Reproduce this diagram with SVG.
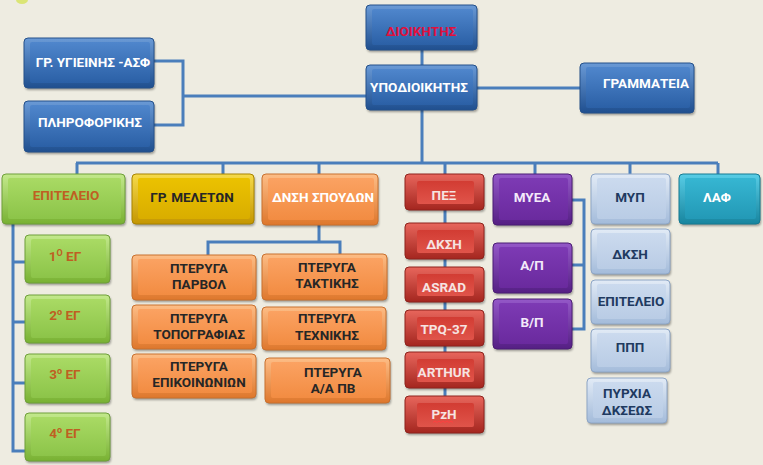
<svg xmlns="http://www.w3.org/2000/svg" width="763" height="465" viewBox="0 0 763 465">
<defs>
<linearGradient id="blueO" x1="0" y1="0" x2="0" y2="1"><stop offset="0" stop-color="#6a9ad6"/><stop offset="1" stop-color="#1f4f8f"/></linearGradient>
<linearGradient id="blueI" x1="0" y1="0" x2="0" y2="1"><stop offset="0" stop-color="#4f86cc"/><stop offset="1" stop-color="#2b60a6"/></linearGradient>
<linearGradient id="greenO" x1="0" y1="0" x2="0" y2="1"><stop offset="0" stop-color="#c3e98c"/><stop offset="1" stop-color="#78b132"/></linearGradient>
<linearGradient id="greenI" x1="0" y1="0" x2="0" y2="1"><stop offset="0" stop-color="#a9da64"/><stop offset="1" stop-color="#8cc449"/></linearGradient>
<linearGradient id="yelO" x1="0" y1="0" x2="0" y2="1"><stop offset="0" stop-color="#f6da4a"/><stop offset="1" stop-color="#c49600"/></linearGradient>
<linearGradient id="yelI" x1="0" y1="0" x2="0" y2="1"><stop offset="0" stop-color="#ebc200"/><stop offset="1" stop-color="#d9ad00"/></linearGradient>
<linearGradient id="orO" x1="0" y1="0" x2="0" y2="1"><stop offset="0" stop-color="#fdbd86"/><stop offset="1" stop-color="#de772c"/></linearGradient>
<linearGradient id="orI" x1="0" y1="0" x2="0" y2="1"><stop offset="0" stop-color="#fba262"/><stop offset="1" stop-color="#f28c42"/></linearGradient>
<linearGradient id="redO" x1="0" y1="0" x2="0" y2="1"><stop offset="0" stop-color="#e8665c"/><stop offset="1" stop-color="#a4261f"/></linearGradient>
<linearGradient id="redI" x1="0" y1="0" x2="0" y2="1"><stop offset="0" stop-color="#d23c33"/><stop offset="1" stop-color="#e0544a"/></linearGradient>
<linearGradient id="purO" x1="0" y1="0" x2="0" y2="1"><stop offset="0" stop-color="#9458c8"/><stop offset="1" stop-color="#551f84"/></linearGradient>
<linearGradient id="purI" x1="0" y1="0" x2="0" y2="1"><stop offset="0" stop-color="#7d3ab4"/><stop offset="1" stop-color="#6a2a9e"/></linearGradient>
<linearGradient id="lbO" x1="0" y1="0" x2="0" y2="1"><stop offset="0" stop-color="#e2ebf6"/><stop offset="1" stop-color="#a3bbda"/></linearGradient>
<linearGradient id="lbI" x1="0" y1="0" x2="0" y2="1"><stop offset="0" stop-color="#cbdaee"/><stop offset="1" stop-color="#b9cce5"/></linearGradient>
<linearGradient id="tealO" x1="0" y1="0" x2="0" y2="1"><stop offset="0" stop-color="#58cde6"/><stop offset="1" stop-color="#17859f"/></linearGradient>
<linearGradient id="tealI" x1="0" y1="0" x2="0" y2="1"><stop offset="0" stop-color="#36b6d2"/><stop offset="1" stop-color="#2399b6"/></linearGradient>
<filter id="shd" x="-10%" y="-10%" width="130%" height="140%"><feGaussianBlur stdDeviation="1.2"/></filter>
</defs>
<style>
.bg{fill:#eeece1}
.sh{fill:#000;opacity:.35;filter:url(#shd)}
.conn{fill:none;stroke:#4a7ebb;stroke-width:3}
text{font-family:Roboto,"Noto Sans","DejaVu Sans",sans-serif;font-weight:bold;font-size:13.5px;text-anchor:middle}
.blue .o{fill:url(#blueO);stroke:#24508a;stroke-width:1}
.blue .i{fill:url(#blueI)}
.blue text{fill:#ffffff}
.green .o{fill:url(#greenO);stroke:#6f9f3a;stroke-width:1}
.green .i{fill:url(#greenI)}
.green text{fill:#bf5f22}
.yel .o{fill:url(#yelO);stroke:#a88300;stroke-width:1}
.yel .i{fill:url(#yelI)}
.yel text{fill:#262626}
.or .o{fill:url(#orO);stroke:#c8702e;stroke-width:1}
.or .i{fill:url(#orI)}
.or text{fill:#262626}
.red .o{fill:url(#redO);stroke:#8e231c;stroke-width:1}
.red .i{fill:url(#redI)}
.red text{fill:#f6e4e2}
.pur .o{fill:url(#purO);stroke:#4b1c74;stroke-width:1}
.pur .i{fill:url(#purI)}
.pur text{fill:#f3eafa}
.lb .o{fill:url(#lbO);stroke:#8ea6c6;stroke-width:1}
.lb .i{fill:url(#lbI)}
.lb text{fill:#1f3a60}
.teal .o{fill:url(#tealO);stroke:#157a92;stroke-width:1}
.teal .i{fill:url(#tealI)}
.teal text{fill:#ffffff}
</style>
<rect class="bg" x="0" y="0" width="763" height="465"/>
<ellipse cx="22" cy="0" rx="6" ry="4" fill="#d6e35a" opacity=".8"/>

<g id="connectors">
<path class="conn" d="M422,50V65M422,110V163M477,88H580"/>
<path class="conn" d="M366,96H183M154,61H183V125H154"/>
<path class="conn" d="M76,163H718M77,163V174M223,163V174M319,163V174M445,163V174M535,163V174M630,163V174M718,163V174"/>
<path class="conn" d="M319,225V242M208,255V242H340V254"/>
<path class="conn" d="M445,210V396"/>
<path class="conn" d="M572,200H584V329H572M584,265H572"/>
<path class="conn" d="M13,224V451H25M13,262H25M13,322H25M13,383H25"/>
</g>

<g id="n-dioikitis" class="blue"><rect class="sh" x="367" y="7" width="111" height="45" rx="4"/><rect class="o" x="366" y="5" width="111" height="45" rx="4"/><rect class="i" x="372" y="9" width="101" height="36" rx="2"/><text x="421" y="35.5" style="fill:#e0103c">ΔΙΟΙΚΗΤΗΣ</text></g>
<g id="n-ypodioikitis" class="blue"><rect class="sh" x="367" y="67" width="111" height="45" rx="4"/><rect class="o" x="366" y="65" width="111" height="45" rx="4"/><rect class="i" x="372" y="69" width="101" height="36" rx="2"/><text x="419" y="91.5">ΥΠΟΔΙΟΙΚΗΤΗΣ</text></g>
<g id="n-grammateia" class="blue"><rect class="sh" x="581" y="65" width="114" height="50" rx="4"/><rect class="o" x="580" y="63" width="114" height="50" rx="4"/><rect class="i" x="586" y="67" width="104" height="41" rx="2"/><text x="646" y="87.5">ΓΡΑΜΜΑΤΕΙΑ</text></g>
<g id="n-ygieinis" class="blue"><rect class="sh" x="25" y="40" width="130" height="50" rx="4"/><rect class="o" x="24" y="38" width="130" height="50" rx="4"/><rect class="i" x="30" y="42" width="120" height="41" rx="2"/><text x="93" y="66.5">ΓΡ. ΥΓΙΕΙΝΗΣ -ΑΣΦ</text></g>
<g id="n-pliroforikis" class="blue"><rect class="sh" x="25" y="103" width="130" height="51" rx="4"/><rect class="o" x="24" y="101" width="130" height="51" rx="4"/><rect class="i" x="30" y="105" width="120" height="42" rx="2"/><text x="90" y="126.5">ΠΛΗΡΟΦΟΡΙΚΗΣ</text></g>

<g id="n-epiteleio" class="green"><rect class="sh" x="3" y="176" width="123" height="50" rx="4"/><rect class="o" x="2" y="174" width="123" height="50" rx="4"/><rect class="i" x="8" y="178" width="113" height="41" rx="2"/><text x="66" y="199.5">ΕΠΙΤΕΛΕΙΟ</text></g>
<g id="n-eg1" class="green"><rect class="sh" x="26" y="237" width="85" height="48" rx="4"/><rect class="o" x="25" y="235" width="85" height="48" rx="4"/><rect class="i" x="31" y="239" width="75" height="39" rx="2"/><text x="65" y="261">1<tspan font-size="9" dy="-5">Ο</tspan><tspan dy="5"> ΕΓ</tspan></text></g>
<g id="n-eg2" class="green"><rect class="sh" x="26" y="297" width="85" height="48" rx="4"/><rect class="o" x="25" y="295" width="85" height="48" rx="4"/><rect class="i" x="31" y="299" width="75" height="39" rx="2"/><text x="65" y="320">2<tspan font-size="9" dy="-5">ο</tspan><tspan dy="5"> ΕΓ</tspan></text></g>
<g id="n-eg3" class="green"><rect class="sh" x="26" y="356" width="85" height="49" rx="4"/><rect class="o" x="25" y="354" width="85" height="49" rx="4"/><rect class="i" x="31" y="358" width="75" height="40" rx="2"/><text x="65" y="379">3<tspan font-size="9" dy="-5">ο</tspan><tspan dy="5"> ΕΓ</tspan></text></g>
<g id="n-eg4" class="green"><rect class="sh" x="26" y="415" width="85" height="48" rx="4"/><rect class="o" x="25" y="413" width="85" height="48" rx="4"/><rect class="i" x="31" y="417" width="75" height="39" rx="2"/><text x="65" y="438">4<tspan font-size="9" dy="-5">ο</tspan><tspan dy="5"> ΕΓ</tspan></text></g>

<g id="n-meletwn" class="yel"><rect class="sh" x="133" y="176" width="122" height="50" rx="4"/><rect class="o" x="132" y="174" width="122" height="50" rx="4"/><rect class="i" x="138" y="178" width="112" height="41" rx="2"/><text x="192" y="201.5">ΓΡ. ΜΕΛΕΤΩΝ</text></g>

<g id="n-dnsi" class="or"><rect class="sh" x="263" y="176" width="116" height="51" rx="4"/><rect class="o" x="262" y="174" width="116" height="51" rx="4"/><rect class="i" x="268" y="178" width="106" height="42" rx="2"/><text x="323" y="201.5" style="fill:#ffffff">ΔΝΣΗ ΣΠΟΥΔΩΝ</text></g>
<g id="n-parvol" class="or"><rect class="sh" x="133" y="257" width="124" height="45" rx="4"/><rect class="o" x="132" y="255" width="124" height="45" rx="4"/><rect class="i" x="138" y="259" width="114" height="36" rx="2"/><text x="199" y="272.5">ΠΤΕΡΥΓΑ</text><text x="199" y="288.5">ΠΑΡΒΟΛ</text></g>
<g id="n-topografias" class="or"><rect class="sh" x="133" y="307" width="124" height="44" rx="4"/><rect class="o" x="132" y="305" width="124" height="44" rx="4"/><rect class="i" x="138" y="309" width="114" height="35" rx="2"/><text x="199" y="322.5">ΠΤΕΡΥΓΑ</text><text x="199" y="338.5">ΤΟΠΟΓΡΑΦΙΑΣ</text></g>
<g id="n-epikoinwniwn" class="or"><rect class="sh" x="133" y="356" width="124" height="44" rx="4"/><rect class="o" x="132" y="354" width="124" height="44" rx="4"/><rect class="i" x="138" y="358" width="114" height="35" rx="2"/><text x="199" y="370.5">ΠΤΕΡΥΓΑ</text><text x="199" y="386.5">ΕΠΙΚΟΙΝΩΝΙΩΝ</text></g>
<g id="n-taktikis" class="or"><rect class="sh" x="263" y="256" width="125" height="46" rx="4"/><rect class="o" x="262" y="254" width="125" height="46" rx="4"/><rect class="i" x="268" y="258" width="115" height="37" rx="2"/><text x="327" y="271.5">ΠΤΕΡΥΓΑ</text><text x="327" y="287.5">ΤΑΚΤΙΚΗΣ</text></g>
<g id="n-texnikis" class="or"><rect class="sh" x="263" y="309" width="124" height="43" rx="4"/><rect class="o" x="262" y="307" width="124" height="43" rx="4"/><rect class="i" x="268" y="311" width="114" height="34" rx="2"/><text x="327" y="322.5">ΠΤΕΡΥΓΑ</text><text x="327" y="339.5">ΤΕΧΝΙΚΗΣ</text></g>
<g id="n-aapv" class="or"><rect class="sh" x="266" y="360" width="125" height="45" rx="4"/><rect class="o" x="265" y="358" width="125" height="45" rx="4"/><rect class="i" x="271" y="362" width="115" height="36" rx="2"/><text x="333" y="376.5">ΠΤΕΡΥΓΑ</text><text x="333" y="392.5">Α/Α ΠΒ</text></g>

<g id="n-pex" class="red"><rect class="sh" x="406" y="176" width="79" height="36" rx="4"/><rect class="o" x="405" y="174" width="79" height="36" rx="4"/><rect class="i" x="417" y="181" width="57" height="23" rx="2"/><text x="444" y="199.5">ΠΕΞ</text></g>
<g id="n-dksi1" class="red"><rect class="sh" x="406" y="225" width="79" height="36" rx="4"/><rect class="o" x="405" y="223" width="79" height="36" rx="4"/><rect class="i" x="417" y="230" width="57" height="23" rx="2"/><text x="444" y="248.5">ΔΚΣΗ</text></g>
<g id="n-asrad" class="red"><rect class="sh" x="406" y="269" width="79" height="35" rx="4"/><rect class="o" x="405" y="267" width="79" height="35" rx="4"/><rect class="i" x="417" y="274" width="57" height="22" rx="2"/><text x="444" y="291.5">ASRAD</text></g>
<g id="n-tpq37" class="red"><rect class="sh" x="406" y="312" width="79" height="36" rx="4"/><rect class="o" x="405" y="310" width="79" height="36" rx="4"/><rect class="i" x="417" y="317" width="57" height="23" rx="2"/><text x="444" y="333.5">TPQ-37</text></g>
<g id="n-arthur" class="red"><rect class="sh" x="406" y="354" width="79" height="36" rx="4"/><rect class="o" x="405" y="352" width="79" height="36" rx="4"/><rect class="i" x="417" y="359" width="57" height="23" rx="2"/><text x="444" y="376.5">ARTHUR</text></g>
<g id="n-pzh" class="red"><rect class="sh" x="406" y="398" width="79" height="37" rx="4"/><rect class="o" x="405" y="396" width="79" height="37" rx="4"/><rect class="i" x="417" y="403" width="57" height="24" rx="2"/><text x="444" y="418.5">PzH</text><path d="M433,422.5 l2,-1.5 l2,1.5 l2,-1.5 l2,1.5 l2,-1.5 l2,1.5 l2,-1.5 l2,1.5 l2,-1.5 l2,1.5" fill="none" stroke="#ff4040" stroke-width="1"/></g>

<g id="n-myea" class="pur"><rect class="sh" x="494" y="176" width="79" height="51" rx="4"/><rect class="o" x="493" y="174" width="79" height="51" rx="4"/><rect class="i" x="499" y="178" width="69" height="42" rx="2"/><text x="532" y="201.5">ΜΥΕΑ</text></g>
<g id="n-ap" class="pur"><rect class="sh" x="494" y="245" width="79" height="50" rx="4"/><rect class="o" x="493" y="243" width="79" height="50" rx="4"/><rect class="i" x="499" y="247" width="69" height="41" rx="2"/><text x="532" y="269.5">Α/Π</text></g>
<g id="n-vp" class="pur"><rect class="sh" x="494" y="301" width="79" height="50" rx="4"/><rect class="o" x="493" y="299" width="79" height="50" rx="4"/><rect class="i" x="499" y="303" width="69" height="41" rx="2"/><text x="532" y="326.5">Β/Π</text></g>

<g id="n-myp" class="lb"><rect class="sh" x="592" y="176" width="79" height="50" rx="4"/><rect class="o" x="591" y="174" width="79" height="50" rx="4"/><rect class="i" x="597" y="178" width="69" height="41" rx="2"/><text x="630" y="201.5">ΜΥΠ</text></g>
<g id="n-dksi2" class="lb"><rect class="sh" x="592" y="231" width="79" height="45" rx="4"/><rect class="o" x="591" y="229" width="79" height="45" rx="4"/><rect class="i" x="597" y="233" width="69" height="36" rx="2"/><text x="630" y="258.5">ΔΚΣΗ</text></g>
<g id="n-epiteleio2" class="lb"><rect class="sh" x="592" y="282" width="79" height="44" rx="4"/><rect class="o" x="591" y="280" width="79" height="44" rx="4"/><rect class="i" x="597" y="284" width="69" height="35" rx="2"/><text x="631" y="305.5">ΕΠΙΤΕΛΕΙΟ</text></g>
<g id="n-ppp" class="lb"><rect class="sh" x="592" y="331" width="79" height="43" rx="4"/><rect class="o" x="591" y="329" width="79" height="43" rx="4"/><rect class="i" x="597" y="333" width="69" height="34" rx="2"/><text x="630" y="351.5">ΠΠΠ</text></g>
<g id="n-pyrxia" class="lb"><rect class="sh" x="588" y="380" width="80" height="45" rx="4"/><rect class="o" x="587" y="378" width="80" height="45" rx="4"/><rect class="i" x="593" y="382" width="70" height="36" rx="2"/><text x="627" y="397.5">ΠΥΡΧΙΑ</text><text x="627" y="414.5">ΔΚΣΕΩΣ</text></g>

<g id="n-laf" class="teal"><rect class="sh" x="680" y="176" width="81" height="50" rx="4"/><rect class="o" x="679" y="174" width="81" height="50" rx="4"/><rect class="i" x="685" y="178" width="71" height="41" rx="2"/><text x="717" y="201.5">ΛΑΦ</text></g>
</svg>
